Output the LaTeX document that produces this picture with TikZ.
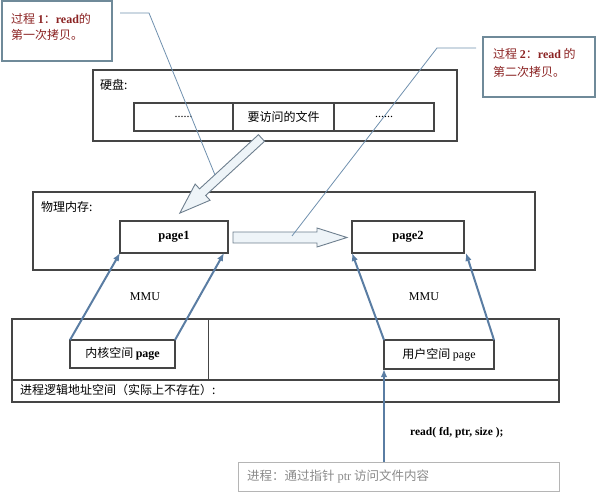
\documentclass[tikz,border=0pt]{standalone}
\usepackage{fontspec}
\setmainfont{Liberation Serif}
\newfontfamily\cjk{Noto Sans CJK SC}
\usetikzlibrary{calc,arrows.meta}
\definecolor{boxline}{HTML}{454545}
\definecolor{calloutline}{HTML}{6F8A99}
\definecolor{redtext}{HTML}{8B2323}
\definecolor{bluearrow}{HTML}{5A7DA3}
\definecolor{hollowfill}{HTML}{EEF4F8}
\definecolor{hollowline}{HTML}{6E7F8E}
\definecolor{graytext}{HTML}{8A8A8A}
\definecolor{pointerline}{HTML}{6F90AE}
\definecolor{procline}{HTML}{B5B5B5}
\begin{document}
\begin{tikzpicture}[x=1pt,y=-1pt,
  box/.style={draw=boxline, line width=1.1pt, inner sep=0pt, outer sep=0pt},
  callout/.style={draw=calloutline, line width=1.1pt, inner sep=0pt, outer sep=0pt},
  cn/.style={font=\cjk\fontsize{12pt}{14pt}\selectfont, inner sep=0pt, anchor=west},
  redlbl/.style={font=\cjk\fontsize{12pt}{14pt}\selectfont, text=redtext, inner sep=0pt, anchor=west},
  pagetext/.style={font=\bfseries\fontsize{12.5pt}{14pt}\selectfont},
  mmu/.style={font=\fontsize{12pt}{14pt}\selectfont, inner sep=0pt},
  maparrow/.style={draw=bluearrow, line width=2pt, -{Latex[length=8pt,width=6.5pt]}},
  pointer/.style={draw=pointerline, line width=0.8pt},
  hollow/.style={draw=hollowline, fill=hollowfill, line width=0.9pt, line join=miter}]
\useasboundingbox (0,0) rectangle (598,500);

% callout boxes
\node[callout, minimum width=110, minimum height=60] (c1) at (57,31) {};
\node[redlbl] (c1a) at (11,19) {过程 {\rmfamily\bfseries 1}：{\rmfamily\bfseries read}的};
\node[redlbl] (c1b) at (11,35) {第一次拷贝。};
\node[callout, minimum width=112, minimum height=60] (c2) at (539,67) {};
\node[redlbl] (c2a) at (493,54) {过程 {\rmfamily\bfseries 2}：{\rmfamily\bfseries read} 的};
\node[redlbl] (c2b) at (493,72) {第二次拷贝。};

% disk
\node[box, minimum width=364, minimum height=71] (disk) at (275,105.5) {};
\node[cn] (disklbl) at (100,85) {硬盘:};
\node[box, minimum width=99, minimum height=28, font=\fontsize{12pt}{14pt}\selectfont] (cell1) at (183.5,117) {......};
\node[box, minimum width=101, minimum height=28, font=\cjk\fontsize{12pt}{14pt}\selectfont] (cell2) at (283.5,117) {要访问的文件};
\node[box, minimum width=100, minimum height=28, font=\fontsize{12pt}{14pt}\selectfont] (cell3) at (384,117) {......};

% physical memory
\node[box, minimum width=502, minimum height=78] (mem) at (284,231) {};
\node[cn] (memlbl) at (41,207) {物理内存:};
\node[box, minimum width=108, minimum height=32, pagetext] (page1) at (174,237) {page1};
\node[box, minimum width=112, minimum height=32, pagetext] (page2) at (408,237) {page2};

% hollow arrow disk -> page1
\begin{scope}[shift={(261.5,138)}, rotate=222.6]
  \draw[hollow] (0,4.5) -- (80,4.5) -- (80,11) -- (111,0) -- (80,-11) -- (80,-4.5) -- (0,-4.5) -- cycle;
\end{scope}
% hollow arrow page1 -> page2
\draw[hollow] (233,232) -- (317,232) -- (317,228) -- (347,237.5) -- (317,247) -- (317,243) -- (233,243) -- cycle;

% MMU labels
\node[mmu] (mmu1) at (145,297) {MMU};
\node[mmu] (mmu2) at (424,297) {MMU};

% logical address space
\node[box, minimum width=547, minimum height=83] (logic) at (285.5,360.5) {};
\coordinate (divl) at (12,380);
\coordinate (divr) at (559,380);
\draw[draw=boxline, line width=1.1pt] (divl) -- (divr);
\coordinate (vtop) at (208,319);
\coordinate (vbot) at (208,380);
\draw[draw=boxline, line width=0.8pt] (vtop) -- (vbot);
\node[cn] (logiclbl) at (20,390) {进程逻辑地址空间（实际上不存在）:};
\node[box, minimum width=105, minimum height=28] (kpage) at (122.5,354) {{\cjk\fontsize{12pt}{14pt}\selectfont 内核空间} {\bfseries\fontsize{12pt}{14pt}\selectfont page}};
\node[box, minimum width=110, minimum height=29] (upage) at (439,354.5) {{\cjk\fontsize{12pt}{14pt}\selectfont 用户空间} {\fontsize{12pt}{14pt}\selectfont page}};

% MMU mapping arrows
\draw[maparrow] (kpage.north west) -- (page1.south west);
\draw[maparrow] (kpage.north east) -- ($(page1.south east)+(-4,0)$);
\draw[maparrow] (upage.north west) -- (page2.south west);
\draw[maparrow] (upage.north east) -- ($(page2.south east)+(2,0)$);

% process box
\node[draw=procline, line width=0.8pt, minimum width=321, minimum height=29, inner sep=0pt] (proc) at (398.5,476.5) {};
\node[cn, text=graytext, font=\cjk\fontsize{12.5pt}{14pt}\selectfont] (proclbl) at (247,477) {进程：通过指针 {\rmfamily ptr} 访问文件内容};
\draw[maparrow, line width=1.8pt] (upage.south west |- proc.north) -- (upage.south west);
\node[font=\bfseries\fontsize{11.5pt}{13pt}\selectfont, inner sep=0pt, anchor=west] (readcall) at (410,433) {read( fd, ptr, size );};

% callout pointer lines
\coordinate (p1a) at (120,13);
\coordinate (p1b) at (149,13);
\coordinate (p1c) at (215,175);
\draw[pointer] (p1a) -- (p1b) -- (p1c);
\coordinate (p2a) at (476,48);
\coordinate (p2b) at (437,48);
\coordinate (p2c) at (292,236);
\draw[pointer] (p2a) -- (p2b) -- (p2c);
\end{tikzpicture}
\end{document}
